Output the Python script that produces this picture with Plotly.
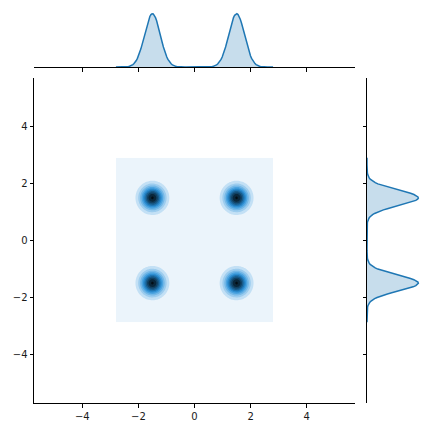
import colorsys
import numpy as np
import plotly.graph_objects as go

# cluster centres of the sample and KDE bandwidth
centers_x = [-1.5, 1.5, -1.5, 1.5]
centers_y = [1.5, 1.5, -1.5, -1.5]
bandwidth = 0.28
x_lo, x_hi = -2.8, 2.8
y_lo, y_hi = -2.88, 2.91
tick_vals = [-4, -2, 0, 2, 4]
axis_range = [-5.72, 5.72]

base = "#1f77b4"

# seaborn-like dark->light blend of the base colour
r, g, b = [int(base[i:i + 2], 16) / 255 for i in (1, 3, 5)]
h, _, s = colorsys.rgb_to_hls(r, g, b)
stops = []
for i, l in enumerate(np.linspace(1, 0, 12)):
    rr, gg, bb = colorsys.hls_to_rgb(h, l, s)
    stops.append([i / 11, "rgb(%d,%d,%d)" % (rr * 255, gg * 255, bb * 255)])

xs = np.linspace(x_lo, x_hi, 140)
ys = np.linspace(y_lo, y_hi, 140)
gx, gy = np.meshgrid(xs, ys)
dens = np.zeros_like(gx)
for cx, cy in zip(centers_x, centers_y):
    dens += np.exp(-((gx - cx) ** 2 + (gy - cy) ** 2) / (2 * bandwidth ** 2))
dens /= len(centers_x) * 2 * np.pi * bandwidth ** 2


def marginal(grid, vals):
    out = np.zeros_like(grid)
    for c in vals:
        out += np.exp(-(grid - c) ** 2 / (2 * bandwidth ** 2))
    return out / (len(vals) * bandwidth * np.sqrt(2 * np.pi))


mx = marginal(xs, centers_x)
my = marginal(ys, centers_y)

fig = go.Figure()
fig.add_trace(go.Contour(
    x=xs, y=ys, z=dens, colorscale=stops, zmin=0, zmax=0.55, zauto=False,
    contours=dict(start=0, end=0.55, size=0.05, coloring="fill"),
    line=dict(width=0), showscale=False, hoverinfo="skip",
    xaxis="x", yaxis="y"))
fig.add_trace(go.Scatter(
    x=xs, y=mx, mode="lines", fill="tozeroy",
    line=dict(color=base, width=1.5), fillcolor="rgba(31,119,180,0.25)",
    xaxis="x2", yaxis="y2"))
fig.add_trace(go.Scatter(
    x=my, y=ys, mode="lines", fill="tozerox",
    line=dict(color=base, width=1.5), fillcolor="rgba(31,119,180,0.25)",
    xaxis="x3", yaxis="y3"))

spine = dict(showline=True, linecolor="black", linewidth=1, ticks="outside",
             ticklen=3.5, tickwidth=0.8, tickcolor="black", showgrid=False,
             zeroline=False, tickvals=tick_vals, range=axis_range)

fig.update_layout(
    width=432, height=432, margin=dict(l=0, r=0, t=0, b=0),
    paper_bgcolor="white", plot_bgcolor="white", showlegend=False,
    font=dict(family="DejaVu Sans", size=10, color="#1a1a1a"),
    xaxis=dict(domain=[34 / 432, 355 / 432], anchor="y", **spine),
    yaxis=dict(domain=[1 - 403 / 432, 1 - 78 / 432], anchor="x", **spine),
    xaxis2=dict(domain=[34 / 432, 355 / 432], anchor="y2", showticklabels=False, **spine),
    yaxis2=dict(domain=[1 - 67 / 432, 1 - 2 / 432], anchor="x2", visible=False,
                range=[0, mx.max() / 0.82]),
    xaxis3=dict(domain=[367 / 432, 1], anchor="y3", visible=False,
                range=[0, my.max() / 0.79]),
    yaxis3=dict(domain=[1 - 403 / 432, 1 - 78 / 432], anchor="x3",
                showticklabels=False, **spine),
)

fig.write_html("out.html", config={"displayModeBar": False},
               post_script="document.body.style.margin='0';")
